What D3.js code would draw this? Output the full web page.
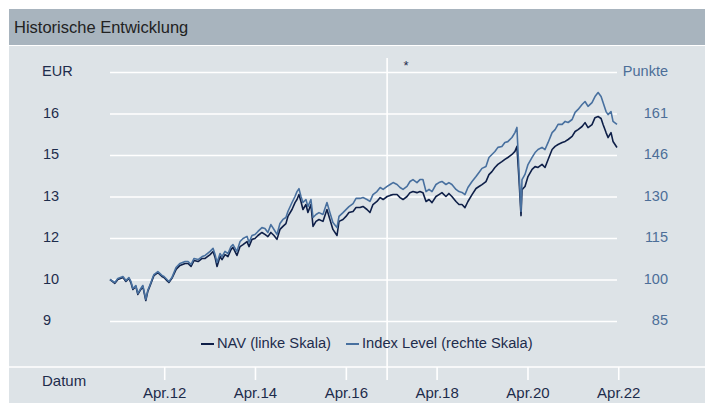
<!DOCTYPE html>
<html>
<head>
<meta charset="utf-8">
<script src="https://cdn.jsdelivr.net/npm/d3@7"></script>
<style>
  body { margin: 0; background: #fff; }
  svg { font-family: "Liberation Sans", Arial, sans-serif; display: block; }
</style>
</head>
<body>
<svg id="chart"></svg>
<script>
// dates of the samples
var dates = [
  "2011-01-21","2011-03-01","2011-03-25","2011-05-05","2011-05-29","2011-06-22","2011-07-08","2011-07-24",
  "2011-08-17","2011-09-02","2011-09-26","2011-10-12","2011-11-05","2011-11-21","2011-12-07","2012-01-09",
  "2012-02-10","2012-03-14","2012-03-30","2012-04-23","2012-05-09","2012-06-02","2012-07-05","2012-08-06",
  "2012-09-16","2012-10-10","2012-11-03","2012-11-27","2012-12-30","2013-01-31","2013-02-24","2013-04-05",
  "2013-04-29","2013-05-15","2013-05-31","2013-06-24","2013-07-10","2013-08-03","2013-08-27","2013-09-20",
  "2013-10-06","2013-11-07","2013-12-02","2013-12-26","2014-01-27","2014-02-12","2014-03-08","2014-04-01",
  "2014-04-25","2014-05-27","2014-06-20","2014-07-14","2014-08-07","2014-09-01","2014-09-25","2014-10-19",
  "2014-11-12","2014-12-06","2014-12-22","2015-01-24","2015-02-17","2015-03-05","2015-03-21","2015-04-06",
  "2015-04-22","2015-05-16","2015-06-01","2015-06-25","2015-07-12","2015-08-05","2015-08-29","2015-09-30",
  "2015-11-01","2015-11-25","2015-12-19","2016-01-21","2016-02-06","2016-03-09","2016-04-02","2016-04-26",
  "2016-05-29","2016-06-22","2016-07-24","2016-08-17","2016-09-18","2016-10-12","2016-11-05","2016-12-07",
  "2017-01-02","2017-01-26","2017-02-27","2017-03-23","2017-04-16","2017-05-18","2017-06-11","2017-07-05",
  "2017-08-06","2017-08-30","2017-09-23","2017-10-25","2017-11-18","2017-12-12","2018-01-06","2018-01-30",
  "2018-02-23","2018-03-27","2018-04-20","2018-05-14","2018-06-15","2018-07-09","2018-08-02","2018-09-04",
  "2018-09-28","2018-10-22","2018-11-15","2018-12-09","2019-01-11","2019-02-12","2019-03-08","2019-04-01",
  "2019-05-03","2019-05-27","2019-06-20","2019-07-14","2019-08-07","2019-09-08","2019-10-02","2019-10-26",
  "2019-11-28","2019-12-22","2020-01-07","2020-01-24","2020-02-09","2020-02-17","2020-03-12","2020-04-05",
  "2020-05-08","2020-06-01","2020-06-25","2020-07-27","2020-08-20","2020-09-14","2020-10-16","2020-11-09",
  "2020-12-03","2021-01-05","2021-01-29","2021-02-22","2021-03-26","2021-04-19","2021-05-13","2021-06-14",
  "2021-07-08","2021-08-01","2021-09-02","2021-09-26","2021-10-21","2021-11-14","2021-11-30","2021-12-24",
  "2022-01-09","2022-02-02","2022-02-18","2022-03-22"
];

// NAV in EUR (left scale)
var navValues = [
  10.00, 9.86,10.00,10.07, 9.93,10.04, 9.89, 9.64, 9.75, 9.46, 9.64, 9.75, 9.24, 9.57, 9.75,10.14,
  10.25,10.11,10.07, 9.96, 9.89,10.04,10.36,10.51,10.58,10.58,10.47,10.69,10.65,10.76,10.76,10.90,
  11.01,10.80,10.47,10.83,10.72,10.90,10.83,11.08,11.16,10.87,11.19,11.26,11.37,11.19,11.45,11.48,
  11.59,11.70,11.63,11.55,11.70,11.59,11.45,11.81,11.92,12.02,12.28,12.53,12.78,12.89,13.07,12.82,
  12.53,12.71,12.42,12.71,11.92,12.10,12.17,12.10,12.53,12.17,11.81,11.59,12.10,12.17,12.28,12.42,
  12.46,12.60,12.60,12.64,12.53,12.42,12.71,12.82,12.96,12.89,13.00,13.04,13.07,13.07,12.96,12.89,
  13.00,13.14,13.18,13.14,13.18,13.14,12.82,12.89,12.78,13.00,13.07,13.14,13.00,13.11,13.00,12.82,
  12.71,12.71,12.60,12.82,13.07,13.29,13.36,13.43,13.54,13.79,13.90,14.05,14.16,14.26,14.34,14.41,
  14.52,14.63,14.81,13.61,12.31,13.25,13.36,13.72,13.98,14.08,14.05,14.16,14.05,14.34,14.70,14.81,
  14.88,14.95,14.99,15.06,15.17,15.35,15.42,15.53,15.67,15.49,15.60,15.85,15.89,15.82,15.60,15.31,
  15.13,15.31,14.99,14.77
];

// Index Level in Punkte (right scale)
var indexValues = [
  100.0, 98.9,100.4,101.1, 99.6,100.7, 99.3, 96.7, 97.8, 94.9, 96.7, 97.8, 92.7, 96.0, 97.8,101.8,
  102.9,101.5,101.1,100.0, 99.3,100.7,104.4,105.9,106.6,106.6,105.5,107.7,107.3,108.4,108.8,110.3,
  111.4,109.2,106.2,109.5,108.4,110.3,109.5,112.1,112.8,110.3,113.9,115.0,115.8,113.6,116.1,116.5,
  117.6,119.0,118.7,117.2,120.1,118.3,116.5,120.5,122.0,122.7,124.9,128.2,130.4,132.2,133.3,130.4,
  128.2,129.3,126.7,129.3,122.7,123.8,124.5,123.8,128.2,124.5,120.9,119.0,123.1,124.5,125.6,126.7,
  127.8,129.7,129.7,130.0,129.3,128.6,131.1,132.2,133.7,133.0,134.1,134.8,135.5,134.8,133.7,133.0,
  134.1,135.9,136.6,135.5,136.6,136.6,132.2,133.0,132.2,134.8,135.5,135.9,134.8,135.5,134.8,133.0,
  132.2,131.9,131.1,133.7,135.9,137.7,139.2,140.7,141.4,144.7,145.8,146.9,148.4,148.7,150.2,150.5,
  152.0,153.8,155.7,139.2,124.9,136.6,138.5,142.1,144.7,146.5,147.6,148.4,147.6,150.2,153.8,154.9,
  156.8,156.8,157.9,157.5,158.6,161.2,162.3,164.1,165.2,163.4,164.8,167.0,168.5,167.0,164.8,161.5,
  160.4,161.5,157.9,156.8
];

// axis ticks (labels are the rounded values)
var navTicks = [8.5, 10, 11.5, 13, 14.5, 16];
var indexTicks = [84.8, 100, 115.2, 130.4, 145.6, 160.8];
var navTop = 17.5, indexTop = 176;
var xTickDates = ["2012-04-01","2014-04-01","2016-04-01","2018-04-01","2020-04-01","2022-04-01"];
var markerDate = "2017-02-27";

function drawChart() {
    var W = 705, H = 403;
    var plot = {left: 110, right: 617, top: 72, bottom: 321};
    var parse = d3.timeParse("%Y-%m-%d");

    var svg = d3.select("#chart").attr("width", W).attr("height", H);

    // panels
    svg.append("rect").attr("x", 9).attr("y", 9).attr("width", W - 9).attr("height", 36).attr("fill", "#a8b4be");
    svg.append("rect").attr("x", 9).attr("y", 46).attr("width", W - 9).attr("height", H - 46).attr("fill", "#dde3e7");
    svg.append("text")
        .attr("x", 14).attr("y", 33)
        .attr("font-size", 16.5).attr("fill", "#222")
        .text("Historische Entwicklung");

    var data = dates.map(function(d, i) {
        return {date: parse(d), nav: navValues[i], idx: indexValues[i]};
    });

    var x = d3.scaleTime()
        .domain(d3.extent(data, function(d) { return d.date; }))
        .range([plot.left, plot.right]);

    var yL = d3.scaleLinear().domain([navTicks[0], navTop]).range([plot.bottom, plot.top]);
    var yR = d3.scaleLinear().domain([indexTicks[0], indexTop]).range([plot.bottom, plot.top]);

    // gridlines
    var grid = svg.append("g")
        .attr("class", "grid")
        .attr("transform", "translate(" + plot.left + ",0)")
        .call(d3.axisRight(yL).tickValues(navTicks.concat([navTop])).tickSize(plot.right - plot.left).tickFormat(""));
    grid.select(".domain").remove();
    grid.selectAll("line").attr("stroke", "#fff").attr("stroke-width", 1.6);

    // bottom separator and marker line
    svg.append("line")
        .attr("x1", 9).attr("x2", W).attr("y1", 367).attr("y2", 367)
        .attr("stroke", "#fff").attr("stroke-width", 1.6);
    svg.append("line")
        .attr("x1", x(parse(markerDate))).attr("x2", x(parse(markerDate)))
        .attr("y1", 58).attr("y2", 380)
        .attr("stroke", "#fff").attr("stroke-width", 1.6);
    svg.append("text")
        .attr("x", x(parse(markerDate)) + 19).attr("y", 70)
        .attr("font-size", 13).attr("text-anchor", "middle").attr("fill", "#1d2c4c")
        .text("*");

    // left axis labels
    svg.append("g").selectAll("text")
        .data(navTicks)
        .enter().append("text")
            .attr("x", 43).attr("y", function(d) { return yL(d) - 1; })
            .attr("dy", "0.35em")
            .attr("font-size", 14.5).attr("fill", "#1d2c4c")
            .text(function(d) { return Math.round(d); });
    svg.append("text")
        .attr("x", 42).attr("y", yL(navTop) - 1).attr("dy", "0.35em")
        .attr("font-size", 14.5).attr("fill", "#1d2c4c")
        .text("EUR");

    // right axis labels
    svg.append("g").selectAll("text")
        .data(indexTicks)
        .enter().append("text")
            .attr("x", 668).attr("y", function(d) { return yR(d) - 1; })
            .attr("dy", "0.35em").attr("text-anchor", "end")
            .attr("font-size", 14.5).attr("fill", "#4c6e98")
            .text(function(d) { return Math.round(d); });
    svg.append("text")
        .attr("x", 668).attr("y", yR(indexTop) - 1).attr("dy", "0.35em").attr("text-anchor", "end")
        .attr("font-size", 14.5).attr("fill", "#4c6e98")
        .text("Punkte");

    // x axis
    var xAxis = svg.append("g")
        .attr("transform", "translate(0,367)")
        .call(d3.axisBottom(x)
            .tickValues(xTickDates.map(parse))
            .tickSize(13)
            .tickPadding(7)
            .tickFormat(function(d) { return "Apr." + d3.timeFormat("%y")(d); }));
    xAxis.select(".domain").remove();
    xAxis.selectAll("line").attr("stroke", "#fff").attr("stroke-width", 1.6);
    xAxis.selectAll("text")
        .attr("font-family", "Liberation Sans, Arial, sans-serif")
        .attr("font-size", 15).attr("fill", "#1d2c4c");
    svg.append("text")
        .attr("x", 42).attr("y", 381).attr("dy", "0.35em")
        .attr("font-size", 15).attr("fill", "#1d2c4c")
        .text("Datum");

    // lines
    var navLine = d3.line()
        .x(function(d) { return x(d.date); })
        .y(function(d) { return yL(d.nav); });
    var idxLine = d3.line()
        .x(function(d) { return x(d.date); })
        .y(function(d) { return yR(d.idx); });

    svg.append("path")
        .datum(data)
        .attr("fill", "none").attr("stroke", "#0e1f48").attr("stroke-width", 1.6)
        .attr("stroke-linejoin", "round")
        .attr("d", navLine);
    svg.append("path")
        .datum(data)
        .attr("fill", "none").attr("stroke", "#48709f").attr("stroke-width", 1.6)
        .attr("stroke-linejoin", "round")
        .attr("d", idxLine);

    // legend
    var legend = [
        {label: "NAV (linke Skala)", color: "#0e1f48", x: 201},
        {label: "Index Level (rechte Skala)", color: "#48709f", x: 346}
    ];
    var lg = svg.append("g").selectAll("g")
        .data(legend)
        .enter().append("g")
            .attr("transform", function(d) { return "translate(" + d.x + ",344)"; });
    lg.append("line")
        .attr("x1", 0).attr("x2", 13)
        .attr("stroke", function(d) { return d.color; }).attr("stroke-width", 2);
    lg.append("text")
        .attr("x", 16).attr("y", -1).attr("dy", "0.35em")
        .attr("font-size", 14.7).attr("fill", "#1d2c4c")
        .text(function(d) { return d.label; });
}

drawChart();
</script>
</body>
</html>
